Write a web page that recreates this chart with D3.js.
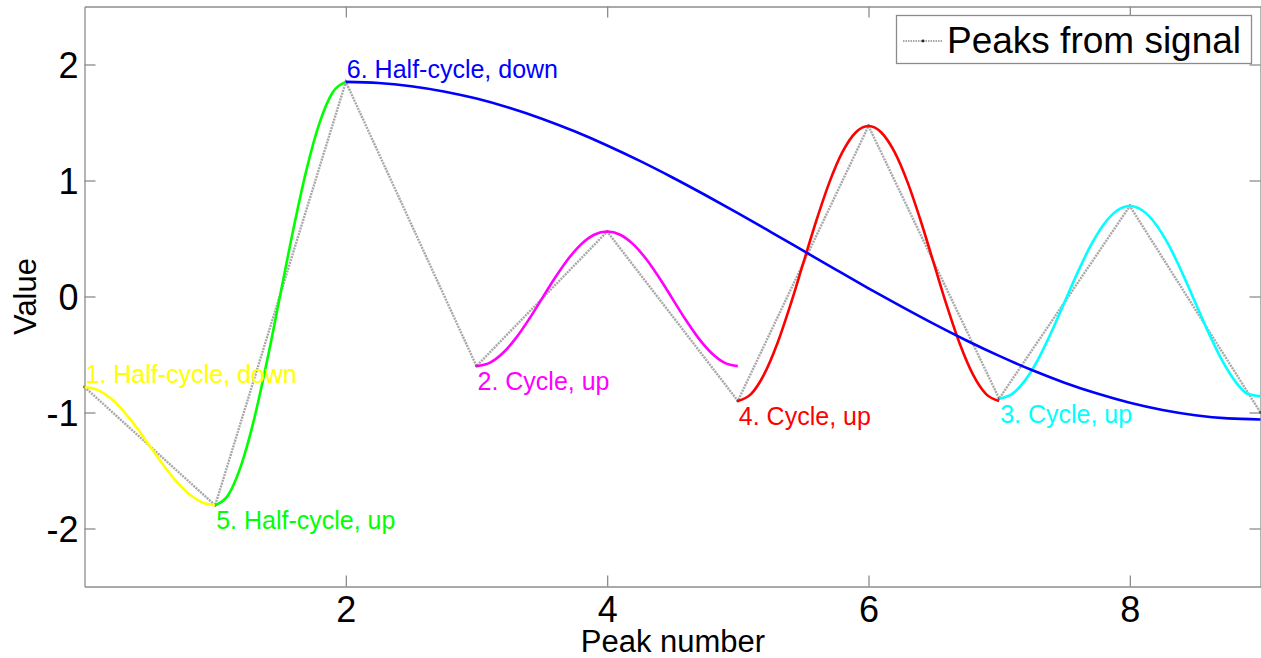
<!DOCTYPE html>
<html>
<head>
<meta charset="utf-8">
<script src="https://cdn.jsdelivr.net/npm/d3@7"></script>
<style>
  html, body { margin: 0; padding: 0; background: #fff; }
  svg { display: block; font-family: "Liberation Sans", Arial, sans-serif; }
</style>
</head>
<body>
<svg id="chart" width="1261" height="658"></svg>
<script>
// Peak sequence extracted from the signal
const peakIndex = [0, 1, 2, 3, 4, 5, 6, 7, 8, 9];
const peakValue = [-0.78, -1.8, 1.85, -0.6, 0.56, -0.9, 1.47, -0.88, 0.78, -1.0];

// Rainflow half-cycles and cycles, sampled along the peak-number axis
const halfCycleDown1 = [
  [0.0, -0.78], [0.1, -0.805], [0.2, -0.877], [0.3, -0.99], [0.4, -1.132], [0.5, -1.29],
  [0.6, -1.448], [0.7, -1.59], [0.8, -1.703], [0.9, -1.775], [1.0, -1.8]
];
const cycleUp2 = [
  [3.0, -0.6], [3.1, -0.572], [3.2, -0.489], [3.3, -0.361], [3.4, -0.199], [3.5, -0.02],
  [3.6, 0.159], [3.7, 0.321], [3.8, 0.449], [3.9, 0.532], [4.0, 0.56], [4.1, 0.532],
  [4.2, 0.449], [4.3, 0.321], [4.4, 0.159], [4.5, -0.02], [4.6, -0.199], [4.7, -0.361],
  [4.8, -0.489], [4.9, -0.572], [5.0, -0.6]
];
const cycleUp3 = [
  [7.0, -0.88], [7.1, -0.839], [7.2, -0.721], [7.3, -0.538], [7.4, -0.306], [7.5, -0.05],
  [7.6, 0.206], [7.7, 0.438], [7.8, 0.621], [7.9, 0.739], [8.0, 0.78], [8.1, 0.739],
  [8.2, 0.621], [8.3, 0.438], [8.4, 0.206], [8.5, -0.05], [8.6, -0.306], [8.7, -0.538],
  [8.8, -0.721], [8.9, -0.839], [9.0, -0.86]
];
const cycleUp4 = [
  [5.0, -0.9], [5.1, -0.842], [5.2, -0.674], [5.3, -0.412], [5.4, -0.081], [5.5, 0.285],
  [5.6, 0.651], [5.7, 0.982], [5.8, 1.244], [5.9, 1.412], [6.0, 1.47], [6.1, 1.412],
  [6.2, 1.244], [6.3, 0.982], [6.4, 0.651], [6.5, 0.285], [6.6, -0.081], [6.7, -0.412],
  [6.8, -0.674], [6.9, -0.842], [7.0, -0.9]
];
const halfCycleUp5 = [
  [1.0, -1.8], [1.1, -1.711], [1.2, -1.451], [1.3, -1.048], [1.4, -0.539], [1.5, 0.025],
  [1.6, 0.589], [1.7, 1.098], [1.8, 1.501], [1.9, 1.761], [2.0, 1.85]
];
const halfCycleDown6 = [
  [2.0, 1.85], [2.25, 1.841], [2.5, 1.813], [2.75, 1.768], [3.0, 1.706], [3.25, 1.627],
  [3.5, 1.533], [3.75, 1.424], [4.0, 1.302], [4.25, 1.169], [4.5, 1.026], [4.75, 0.875],
  [5.0, 0.719], [5.25, 0.558], [5.5, 0.395], [5.75, 0.232], [6.0, 0.071], [6.25, -0.085],
  [6.5, -0.236], [6.75, -0.379], [7.0, -0.512], [7.25, -0.634], [7.5, -0.743], [7.75, -0.837],
  [8.0, -0.916], [8.25, -0.978], [8.5, -1.023], [8.75, -1.051], [9.0, -1.06]
];

const curveLabels = ["1. Half-cycle, down", "2. Cycle, up", "3. Cycle, up",
                     "4. Cycle, up", "5. Half-cycle, up", "6. Half-cycle, down"];
const curveColors = ["#ffff00", "#ff00ff", "#00ffff", "#ff0000", "#00ff00", "#0000ff"];
const curveData = [halfCycleDown1, cycleUp2, cycleUp3, cycleUp4, halfCycleUp5, halfCycleDown6];
const labelAbove = [true, false, false, false, false, true];

const xTicks = [2, 4, 6, 8];
const yTicks = [-2, -1, 0, 1, 2];
const xTitle = "Peak number";
const yTitle = "Value";
const legendText = "Peaks from signal";

// Layout
const svg = d3.select("#chart");
const plotLeft = 84.5, plotRight = 1260.5, plotTop = 6.5, plotBottom = 586.5;
const x = d3.scaleLinear().domain([0, 9]).range([plotLeft, plotRight]);
const y = d3.scaleLinear().domain([-2.5, 2.5]).range([plotBottom, plotTop]);
const axisColor = "#8c8c8c";
const tickLen = 11;
const fmt = d => String(d);

// Axes on all four sides with inward ticks
const gx = svg.append("g").attr("transform", `translate(0,${plotBottom})`)
  .call(d3.axisBottom(x).tickValues(xTicks).tickFormat(fmt).tickSize(-tickLen).tickPadding(10).tickSizeOuter(0));
const gxTop = svg.append("g").attr("transform", `translate(0,${plotTop})`)
  .call(d3.axisTop(x).tickValues(xTicks).tickSize(-tickLen).tickFormat("").tickSizeOuter(0));
const gy = svg.append("g").attr("transform", `translate(${plotLeft},0)`)
  .call(d3.axisLeft(y).tickValues(yTicks).tickFormat(fmt).tickSize(-tickLen).tickPadding(6).tickSizeOuter(0));
const gyRight = svg.append("g").attr("transform", `translate(${plotRight},0)`)
  .call(d3.axisRight(y).tickValues(yTicks).tickSize(-tickLen).tickFormat("").tickSizeOuter(0));

[gx, gxTop, gy, gyRight].forEach(g => {
  g.select(".domain").attr("stroke", axisColor).attr("stroke-width", 1.3);
  g.selectAll(".tick line").attr("stroke", axisColor).attr("stroke-width", 1.3);
  g.selectAll(".tick text").attr("fill", "#000").style("font-size", "36px")
    .style("font-family", "'Liberation Sans', Arial, sans-serif");
});
gx.selectAll(".tick text").attr("dy", "0.71em");
gy.selectAll(".tick text").attr("dy", "0.36em");

// Axis titles
svg.append("text").attr("x", 673).attr("y", 652)
  .attr("text-anchor", "middle").style("font-size", "31px").text(xTitle);
svg.append("text").attr("transform", `translate(36,${(plotTop + plotBottom) / 2}) rotate(-90)`)
  .attr("text-anchor", "middle").style("font-size", "31px").text(yTitle);

// Peak sequence as grey dotted line with dot markers
const line = d3.line().x(d => x(d[0])).y(d => y(d[1]));
const smooth = d3.line().x(d => x(d[0])).y(d => y(d[1])).curve(d3.curveMonotoneX);
const peaks = peakIndex.map((p, i) => [p, peakValue[i]]);
svg.append("path").datum(peaks).attr("d", line)
  .attr("fill", "none").attr("stroke", "#a8a8a8").attr("stroke-width", 2.4)
  .attr("stroke-dasharray", "2,1");
svg.selectAll("circle.peak").data(peaks).enter().append("circle")
  .attr("class", "peak").attr("cx", d => x(d[0])).attr("cy", d => y(d[1]))
  .attr("r", 1.4).attr("fill", "#555");

// Cycle curves and their labels
curveData.forEach((c, i) => {
  svg.append("path").datum(c).attr("d", smooth)
    .attr("fill", "none").attr("stroke", curveColors[i]).attr("stroke-width", 2.6)
    .attr("stroke-linejoin", "round");
});
curveData.forEach((c, i) => {
  const p = c[0];
  svg.append("text").attr("x", x(p[0]) + 1)
    .attr("y", labelAbove[i] ? y(p[1]) - 4 : y(p[1]) + 24)
    .attr("fill", curveColors[i]).style("font-size", "25px").text(curveLabels[i]);
});

// Legend
const lg = svg.append("g");
lg.append("rect").attr("x", 896.5).attr("y", 15.5).attr("width", 355).attr("height", 48)
  .attr("fill", "#fff").attr("stroke", "#8c8c8c").attr("stroke-width", 1.3);
lg.append("line").attr("x1", 903).attr("x2", 943).attr("y1", 41).attr("y2", 41)
  .attr("stroke", "#a8a8a8").attr("stroke-width", 2).attr("stroke-dasharray", "1.5,1");
lg.append("circle").attr("cx", 923).attr("cy", 41).attr("r", 1.4).attr("fill", "#222");
lg.append("text").attr("x", 947).attr("y", 53).style("font-size", "37px").attr("fill", "#000")
  .text(legendText);
</script>
</body>
</html>
